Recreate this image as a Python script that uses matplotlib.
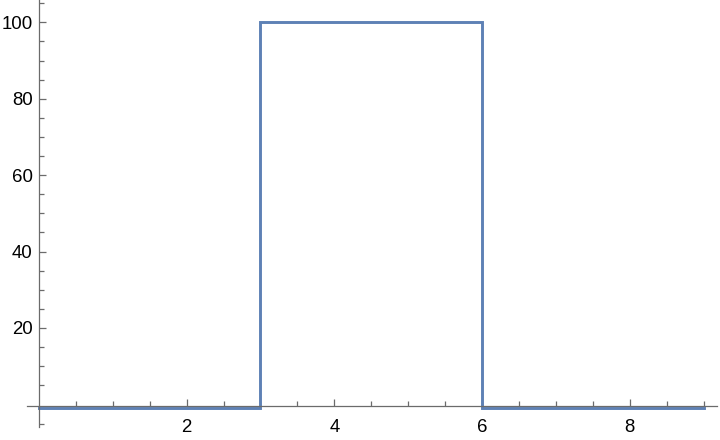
import matplotlib
matplotlib.use("Agg")
import matplotlib.pyplot as plt
import numpy as np
from matplotlib.ticker import FixedLocator

# step signal: level held from each x until the next
step_x = [0, 3, 6, 9]
step_y = [-1, 100, -1, -1]

x_major = [2, 4, 6, 8]
y_major = [20, 40, 60, 80, 100]

plt.rcParams["font.family"] = ["Liberation Sans", "DejaVu Sans"]

fig = plt.figure(figsize=(7.2, 4.4), dpi=100)
ax = fig.add_axes([27 / 720, 13 / 440, 690 / 720, 427 / 440])

ax.step(step_x, step_y, where="post", color="#5E81B5", linewidth=2.1,
        solid_joinstyle="miter", clip_on=False)

ax.set_xlim(-0.16, 9.18)
ax.set_ylim(-5.91, 105.84)

for side in ("top", "right"):
    ax.spines[side].set_visible(False)
ax.spines["bottom"].set_position(("data", -0.4))
ax.spines["left"].set_position(("data", 0))
for side in ("bottom", "left"):
    ax.spines[side].set_color("#6b6b6b")
    ax.spines[side].set_linewidth(0.9)

x_minor = [v for v in np.arange(0.5, 9.01, 0.5) if v not in x_major]
y_minor = [v for v in np.arange(-5, 106, 5) if v not in y_major and v != 0]
ax.xaxis.set_major_locator(FixedLocator(x_major))
ax.xaxis.set_minor_locator(FixedLocator(x_minor))
ax.yaxis.set_major_locator(FixedLocator(y_major))
ax.yaxis.set_minor_locator(FixedLocator(y_minor))

ax.tick_params(which="both", direction="in", color="#6b6b6b", width=0.9,
               labelsize=13.4, labelcolor="black")
ax.tick_params(which="major", length=5.2)
ax.tick_params(which="minor", length=3.4)
ax.tick_params(axis="x", pad=9.5)
ax.tick_params(axis="y", pad=4.5)

fig.savefig("out.png", dpi=100)
